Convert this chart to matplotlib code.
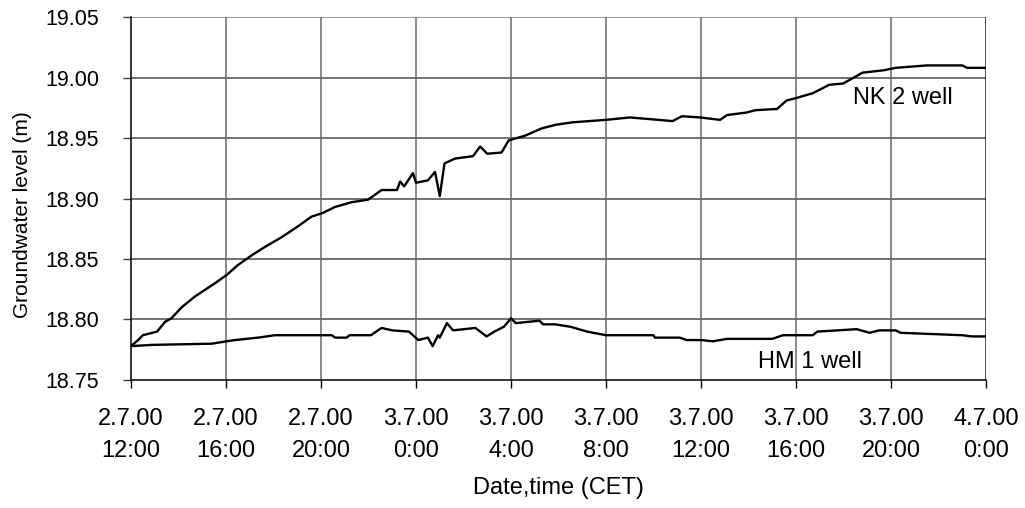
import matplotlib
matplotlib.use("Agg")
import matplotlib.pyplot as plt

plt.rcParams['font.family'] = ['Liberation Sans', 'DejaVu Sans']

# hours after 2.7.00 12:00
nk_t = [0, 0.3, 0.5, 1.1, 1.43, 1.7, 2.13, 2.69, 3.54, 4.04, 4.5, 5.08, 5.64, 6.34, 7.03,
        7.6, 8.07, 8.59, 9.3, 9.98, 10.55, 11.2, 11.33, 11.5, 11.87, 12.0, 12.5, 12.8, 13.0,
        13.2, 13.64, 14.4, 14.7, 15.0, 15.6, 15.9, 16.6, 17.3, 17.9, 18.6, 20.0, 21.0, 22.8,
        23.2, 23.96, 24.8, 25.1, 25.9, 26.3, 27.2, 27.6, 28.0, 28.7, 29.4, 29.98, 30.8, 31.7,
        32.2, 33.5, 35.0, 35.2, 36]
nk_v = [18.778, 18.783, 18.787, 18.790, 18.798, 18.801, 18.810, 18.819, 18.830, 18.837,
        18.845, 18.853, 18.860, 18.868, 18.877, 18.885, 18.888, 18.893, 18.897, 18.899,
        18.907, 18.907, 18.914, 18.910, 18.921, 18.913, 18.915, 18.922, 18.902, 18.929,
        18.933, 18.935, 18.943, 18.937, 18.938, 18.948, 18.952, 18.958, 18.961, 18.963,
        18.965, 18.967, 18.964, 18.968, 18.967, 18.965, 18.969, 18.971, 18.973, 18.974,
        18.981, 18.983, 18.987, 18.994, 18.995, 19.004, 19.006, 19.008, 19.010, 19.010,
        19.008, 19.008]

hm_t = [0, 0.87, 3.4, 4.04, 4.38, 5.35, 6.06, 8.45, 8.6, 9.08, 9.2, 10.1, 10.55, 11.0, 11.7,
        12.1, 12.5, 12.7, 12.93, 13.0, 13.3, 13.56, 14.5, 14.97, 15.3, 15.7, 16.0, 16.2, 17.2,
        17.35, 17.85, 18.5, 19.2, 20.0, 22.0, 22.06, 23.1, 23.4, 24.0, 24.5, 25.1, 27.0, 27.45,
        28.7, 28.9, 30.55, 31.1, 31.5, 32.2, 32.4, 35.0, 35.4, 36]
hm_v = [18.778, 18.779, 18.780, 18.782, 18.783, 18.785, 18.787, 18.787, 18.785, 18.785,
        18.787, 18.787, 18.793, 18.791, 18.790, 18.783, 18.785, 18.778, 18.787, 18.785,
        18.797, 18.791, 18.793, 18.786, 18.790, 18.794, 18.801, 18.797, 18.799, 18.796,
        18.796, 18.794, 18.790, 18.787, 18.787, 18.785, 18.785, 18.783, 18.783, 18.782,
        18.784, 18.784, 18.787, 18.787, 18.790, 18.792, 18.789, 18.791, 18.791, 18.789,
        18.787, 18.786, 18.786]

x_ticks = [0, 4, 8, 12, 16, 20, 24, 28, 32, 36]
x_tick_labels = ["2.7.00\n12:00", "2.7.00\n16:00", "2.7.00\n20:00", "3.7.00\n0:00",
                 "3.7.00\n4:00", "3.7.00\n8:00", "3.7.00\n12:00", "3.7.00\n16:00",
                 "3.7.00\n20:00", "4.7.00\n0:00"]
y_ticks = [18.75, 18.80, 18.85, 18.90, 18.95, 19.00, 19.05]
y_tick_labels = ["18.75", "18.80", "18.85", "18.90", "18.95", "19.00", "19.05"]

fig = plt.figure(figsize=(10.25, 5.08), dpi=100)
ax = fig.add_axes([0.1278, 0.252, 0.8342, 0.7145])

ax.set_xlim(0, 36)
ax.set_ylim(18.75, 19.05)

# grid
for y in y_ticks[1:]:
    ax.axhline(y, color='#4a4a4a' if y < 19.04 else '#808080', lw=1.1, zorder=1)
for x in x_ticks[1:]:
    ax.axvline(x, color='#6a6a6a' if x < 36 else '#202020', lw=1.1, zorder=1)

ax.plot(nk_t, nk_v, color='black', lw=1.7, zorder=3)
ax.plot(hm_t, hm_v, color='black', lw=1.7, zorder=3)

ax.text(30.4, 18.983, "NK 2 well", fontsize=17, va='center', ha='left', zorder=2)
ax.text(26.4, 18.7648, "HM 1 well", fontsize=17, va='center', ha='left', zorder=2)

ax.set_xticks(x_ticks)
ax.set_xticklabels(x_tick_labels, fontsize=17, linespacing=1.6)
ax.set_yticks(y_ticks)
ax.set_yticklabels(y_tick_labels, fontsize=15.5)

ax.tick_params(axis='x', direction='out', length=6, width=1, pad=14, color='black')
ax.tick_params(axis='y', direction='out', length=6, width=1, pad=17, color='#404040')

for s in ['top', 'right']:
    ax.spines[s].set_visible(False)
ax.spines['left'].set_color('black')
ax.spines['bottom'].set_color('black')
ax.spines['left'].set_linewidth(1.1)
ax.spines['bottom'].set_linewidth(1.1)

ax.set_xlabel("Date,time (CET)", fontsize=17, labelpad=11)
ax.set_ylabel("Groundwater level (m)", fontsize=15)
ax.yaxis.set_label_coords((23 - 131) / 855, 1 - (215 - 17) / 363, transform=ax.transAxes)
ax.yaxis.label.set_verticalalignment('center')

fig.savefig("out.png", dpi=100, facecolor='white')
